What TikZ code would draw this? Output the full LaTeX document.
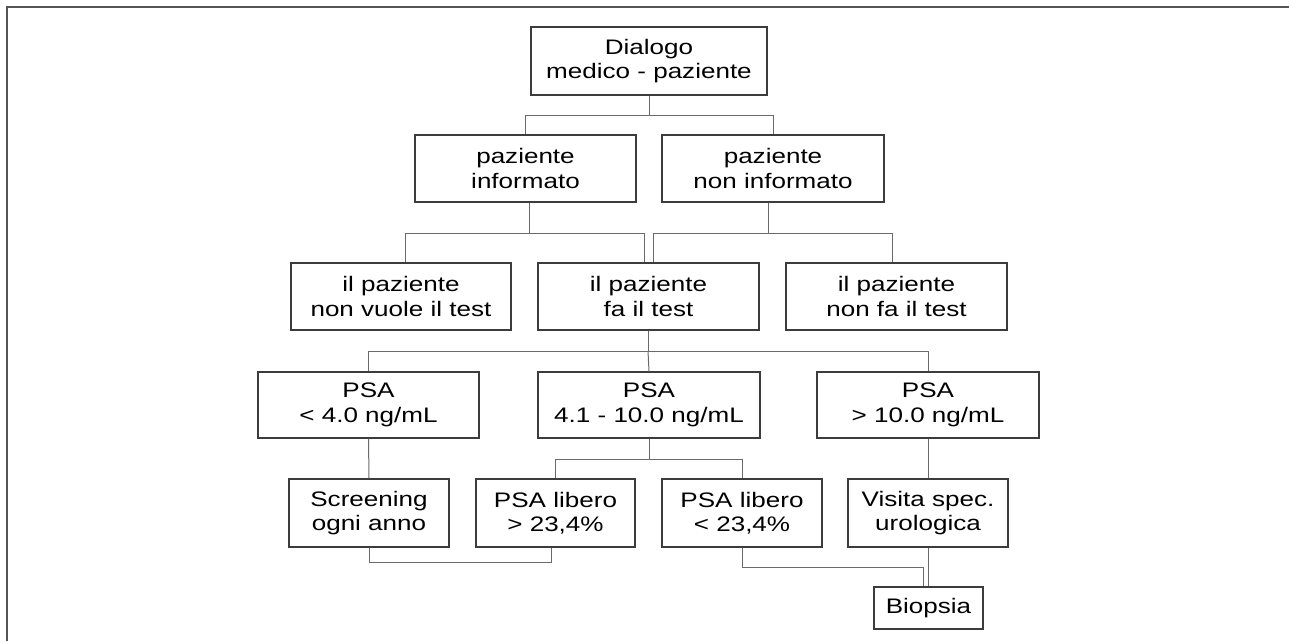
\documentclass[tikz,border=0pt]{standalone}
\usepackage{fontspec}
\setmainfont{Liberation Sans}[FakeStretch=1.24]
\definecolor{boxline}{HTML}{3C3C3C}
\definecolor{conline}{HTML}{6A6A6A}
\definecolor{frameline}{HTML}{555555}
\begin{document}
\begin{tikzpicture}[x=1pt,y=-1pt,
  box/.style={draw=boxline, line width=1.1pt, rectangle, inner sep=0pt, align=center,
    font=\fontsize{21}{24.5}\selectfont, text=black},
  con/.style={draw=conline, line width=1pt}]
\useasboundingbox (0,0) rectangle (1289,641);
\fill[white] (0,0) rectangle (1289,641);
% frame
\draw[frameline, line width=1.6pt] (7,641) -- (7,7) -- (1289,7);
% nodes
\node[box, minimum width=236pt, minimum height=68pt] (dial) at (649,61) {Dialogo\\medico - paziente};
\node[box, minimum width=221pt, minimum height=67pt] (inf) at (525.5,168.5) {paziente\\informato};
\node[box, minimum width=222pt, minimum height=67pt] (ninf) at (773,168.5) {paziente\\non informato};
\node[box, minimum width=220pt, minimum height=67pt] (nvuole) at (401,296.5) {il paziente\\non vuole il test};
\node[box, minimum width=221pt, minimum height=67pt] (fa) at (648.5,296.5) {il paziente\\fa il test};
\node[box, minimum width=221pt, minimum height=67pt] (nfa) at (896.5,296.5) {il paziente\\non fa il test};
\node[box, minimum width=221pt, minimum height=66pt] (psa1) at (368.5,405) {PSA\\< 4.0 ng/mL};
\node[box, minimum width=222pt, minimum height=66pt] (psa2) at (649,405) {PSA\\4.1 - 10.0 ng/mL};
\node[box, minimum width=222pt, minimum height=66pt] (psa3) at (928,405) {PSA\\> 10.0 ng/mL};
\node[box, minimum width=160pt, minimum height=68pt] (scr) at (369,513) {Screening\\ogni anno};
\node[box, minimum width=159pt, minimum height=68pt] (lib1) at (555.5,513) {PSA libero\\> 23,4\%};
\node[box, minimum width=160pt, minimum height=68pt] (lib2) at (742,513) {PSA libero\\< 23,4\%};
\node[box, minimum width=160pt, minimum height=68pt] (vis) at (928,513) {Visita spec.\\urologica};
\node[box, minimum width=109pt, minimum height=42pt] (bio) at (928.5,608) {Biopsia};
% junction coordinates
\coordinate (j1) at (649,115);
\coordinate (j2) at (529,233);
\coordinate (j3) at (768,233);
\coordinate (j4) at (648,351);
\coordinate (j5) at (649,459);
\coordinate (j6) at (369,562);
\coordinate (j7) at (742,567);
% connectors
\draw[con] (dial.south) -- (j1);
\draw[con] (inf.north) -- (inf.north |- j1) -- (ninf.north |- j1) -- (ninf.north);
\draw[con] (j2 |- inf.south) -- (j2);
\draw[con] (405,0 |- nvuole.north) -- (405,0 |- j2) -- (644,0 |- j2) -- (644,0 |- fa.north);
\draw[con] (j3 |- ninf.south) -- (j3);
\draw[con] (653,0 |- fa.north) -- (653,0 |- j3) -- (892,0 |- j3) -- (892,0 |- nfa.north);
\draw[con] (j4 |- fa.south) -- (j4);
\draw[con] (psa1.north) -- (psa1.north |- j4) -- (psa3.north |- j4) -- (psa3.north);
\draw[con] (j4) -- (psa2.north);
\draw[con] (psa1.south) -- (scr.north);
\draw[con] (psa2.south) -- (j5);
\draw[con] (lib1.north) -- (lib1.north |- j5) -- (lib2.north |- j5) -- (lib2.north);
\draw[con] (psa3.south) -- (vis.north);
\draw[con] (scr.south) -- (j6) -- (551,0 |- j6) -- (551,0 |- lib1.south);
\draw[con] (lib2.south) -- (j7) -- (923,0 |- j7) -- (923,0 |- bio.north);
\draw[con] (vis.south) -- (vis.south |- bio.north);
\end{tikzpicture}
\end{document}
